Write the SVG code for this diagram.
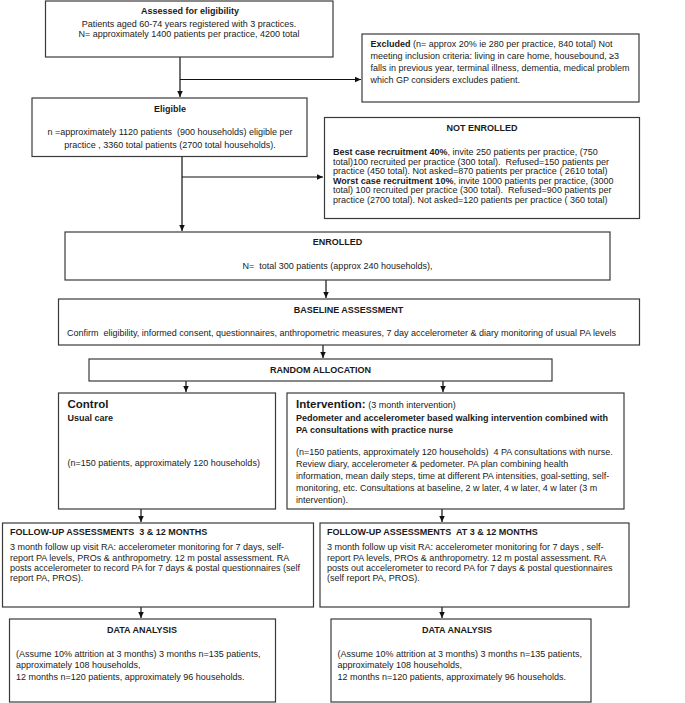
<svg xmlns="http://www.w3.org/2000/svg" width="685" height="703" viewBox="0 0 685 703">
<defs>
<marker id="ah" markerUnits="userSpaceOnUse" markerWidth="7" markerHeight="6" refX="6" refY="2.75" orient="auto">
<path d="M0,0 L6,2.75 L0,5.5 z" fill="#111"/>
</marker>
<style>
.box{fill:#fff;stroke:#3a3a3a;stroke-width:1.2}
text{font-family:"Liberation Sans",Arial,sans-serif;font-size:9px;fill:#1a1a1a;white-space:pre}
.b{font-weight:bold}
.c{text-anchor:middle}
.h{font-size:11.5px;font-weight:bold}
.con{fill:none;stroke:#111;stroke-width:1.2}
</style>
</defs>
<rect width="685" height="703" fill="#fff"/>

<g id="connectors">
<path class="con" d="M180,57 V97" marker-end="url(#ah)"/>
<path class="con" d="M180,79.5 H361" marker-end="url(#ah)"/>
<path class="con" d="M182,157 V231" marker-end="url(#ah)"/>
<path class="con" d="M182,177 H323" marker-end="url(#ah)"/>
<path class="con" d="M326,280 V298" marker-end="url(#ah)"/>
<path class="con" d="M323,345 V358" marker-end="url(#ah)"/>
<path class="con" d="M186,381 V392" marker-end="url(#ah)"/>
<path class="con" d="M443,381 V392" marker-end="url(#ah)"/>
<path class="con" d="M141,509 V522" marker-end="url(#ah)"/>
<path class="con" d="M442,509 V522" marker-end="url(#ah)"/>
<path class="con" d="M141,607 V618" marker-end="url(#ah)"/>
<path class="con" d="M442,607 V618" marker-end="url(#ah)"/>
</g>

<g id="assessed">
<rect class="box" x="45.5" y="1" width="287.5" height="56"/>
<text class="b c" x="190" y="14">Assessed for eligibility</text>
<text class="c" x="189" y="27">Patients aged 60-74 years registered with 3 practices.</text>
<text class="c" x="189" y="36.5">N= approximately 1400 patients per practice, 4200 total</text>
</g>

<g id="excluded">
<rect class="box" x="362" y="34" width="277" height="68"/>
<text x="370.5" y="47"><tspan class="b">Excluded</tspan> (n= approx 20% ie 280 per practice, 840 total) Not</text>
<text x="370.5" y="59">meeting inclusion criteria: living in care home, housebound, ≥3</text>
<text x="370.5" y="71">falls in previous year, terminal illness, dementia, medical problem</text>
<text x="370.5" y="83">which GP considers excludes patient.</text>
</g>

<g id="eligible">
<rect class="box" x="32" y="98" width="275" height="58.5"/>
<text class="b c" x="170" y="111.5">Eligible</text>
<text class="c" x="170" y="135">n =approximately 1120 patients  (900 households) eligible per</text>
<text class="c" x="170" y="147.5">practice , 3360 total patients (2700 total households).</text>
</g>

<g id="not-enrolled">
<rect class="box" x="324.5" y="117.5" width="315" height="101"/>
<text class="b c" x="482" y="130.5">NOT ENROLLED</text>
<text x="333" y="155"><tspan class="b">Best case recruitment 40%</tspan>, invite 250 patients per practice, (750</text>
<text x="333" y="164.5">total)100 recruited per practice (300 total).  Refused=150 patients per</text>
<text x="333" y="174">practice (450 total). Not asked=870 patients per practice ( 2610 total)</text>
<text x="333" y="183.5"><tspan class="b">Worst case recruitment 10%</tspan>, invite 1000 patients per practice, (3000</text>
<text x="333" y="193">total) 100 recruited per practice (300 total).  Refused=900 patients per</text>
<text x="333" y="202.5">practice (2700 total). Not asked=120 patients per practice ( 360 total)</text>
</g>

<g id="enrolled">
<rect class="box" x="65" y="232" width="545" height="48"/>
<text class="b c" x="337.5" y="245">ENROLLED</text>
<text class="c" x="337.5" y="269">N=  total 300 patients (approx 240 households),</text>
</g>

<g id="baseline">
<rect class="box" x="58.5" y="299" width="581" height="46"/>
<text class="b c" x="348.5" y="312.5">BASELINE ASSESSMENT</text>
<text x="67" y="336">Confirm  eligibility, informed consent, questionnaires, anthropometric measures, 7 day accelerometer &amp; diary monitoring of usual PA levels</text>
</g>

<g id="random">
<rect class="box" x="89" y="359" width="463" height="22"/>
<text class="b c" x="320.5" y="372.5">RANDOM ALLOCATION</text>
</g>

<g id="control">
<rect class="box" x="58.5" y="393" width="217" height="116"/>
<text class="h" x="67.5" y="408">Control</text>
<text class="b" x="67.5" y="421">Usual care</text>
<text x="67.5" y="465.5">(n=150 patients, approximately 120 households)</text>
</g>

<g id="intervention">
<rect class="box" x="287" y="393" width="337" height="116"/>
<text x="296" y="408"><tspan class="h">Intervention:</tspan> (3 month intervention)</text>
<text class="b" x="296" y="421">Pedometer and accelerometer based walking intervention combined with</text>
<text class="b" x="296" y="433">PA consultations with practice nurse</text>
<text x="296" y="455">(n=150 patients, approximately 120 households)  4 PA consultations with nurse.</text>
<text x="296" y="467">Review diary, accelerometer &amp; pedometer. PA plan combining health</text>
<text x="296" y="479">information, mean daily steps, time at different PA intensities, goal-setting, self-</text>
<text x="296" y="491">monitoring, etc. Consultations at baseline, 2 w later, 4 w later, 4 w later (3 m</text>
<text x="296" y="503">intervention).</text>
</g>

<g id="followup-control">
<rect class="box" x="2.5" y="523" width="311" height="84"/>
<text class="b" x="10" y="535">FOLLOW-UP ASSESSMENTS  3 &amp; 12 MONTHS</text>
<text x="10" y="550">3 month follow up visit RA: accelerometer monitoring for 7 days, self-</text>
<text x="10" y="560.5">report PA levels, PROs &amp; anthropometry. 12 m postal assessment. RA</text>
<text x="10" y="571">posts accelerometer to record PA for 7 days &amp; postal questionnaires (self</text>
<text x="10" y="581">report PA, PROS).</text>
</g>

<g id="followup-intervention">
<rect class="box" x="320" y="523" width="309" height="84"/>
<text class="b" x="327" y="535">FOLLOW-UP ASSESSMENTS  AT 3 &amp; 12 MONTHS</text>
<text x="327" y="550">3 month follow up visit RA: accelerometer monitoring for 7 days , self-</text>
<text x="327" y="560.5">report PA levels, PROs &amp; anthropometry. 12 m postal assessment. RA</text>
<text x="327" y="571">posts out accelerometer to record PA for 7 days &amp; postal questionnaires</text>
<text x="327" y="581">(self report PA, PROS).</text>
</g>

<g id="analysis-control">
<rect class="box" x="9.5" y="619" width="266" height="83"/>
<text class="b c" x="142" y="632.5">DATA ANALYSIS</text>
<text x="16" y="656.5">(Assume 10% attrition at 3 months) 3 months n=135 patients,</text>
<text x="16" y="668">approximately 108 households,</text>
<text x="16" y="679.5">12 months n=120 patients, approximately 96 households.</text>
</g>

<g id="analysis-intervention">
<rect class="box" x="331" y="619" width="260" height="83"/>
<text class="b c" x="457" y="632.5">DATA ANALYSIS</text>
<text x="337.5" y="656.5">(Assume 10% attrition at 3 months) 3 months n=135 patients,</text>
<text x="337.5" y="668">approximately 108 households,</text>
<text x="337.5" y="679.5">12 months n=120 patients, approximately 96 households.</text>
</g>
</svg>
